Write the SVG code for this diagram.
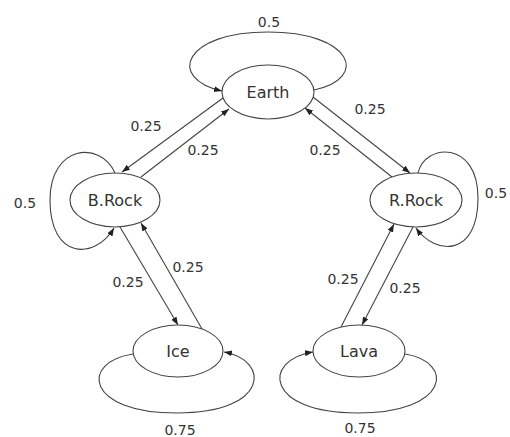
<svg xmlns="http://www.w3.org/2000/svg" width="510" height="437" viewBox="0 0 510 437">
<style>
.node ellipse{fill:#fff;stroke:#444;stroke-width:1.1}
.node text{font-family:"DejaVu Sans",sans-serif;font-size:16px;fill:#333;text-anchor:middle;dominant-baseline:central}
.edges path,.edges line{fill:none;stroke:#444;stroke-width:1.1;marker-end:url(#ah)}
.lbl{font-family:"DejaVu Sans",sans-serif;font-size:14px;fill:#333;text-anchor:middle;dominant-baseline:central}
</style>
<defs>
<marker id="ah" markerUnits="userSpaceOnUse" markerWidth="9" markerHeight="7" refX="8" refY="3" orient="auto">
<path d="M0,0 L8,3 L0,6 z" fill="#222"/>
</marker>
</defs>
<rect width="510" height="437" fill="#fff"/>
<g class="edges">
<path d="M314,90 C370,78 352,32 268,32 C184,32 166,78 222,91"/>
<line x1="223" y1="98" x2="122" y2="172"/>
<line x1="141" y1="177" x2="229" y2="109"/>
<line x1="313" y1="97" x2="410" y2="173"/>
<line x1="392" y1="177" x2="305" y2="108"/>
<path d="M115,173 C100,140 50,145 50,200 C50,260 95,260 114,228"/>
<path d="M418,173 C425,143 478,140 478,198 C478,258 435,255 416,228"/>
<line x1="120" y1="227" x2="178" y2="325"/>
<line x1="202" y1="329" x2="141" y2="223"/>
<line x1="341" y1="327" x2="394" y2="224"/>
<line x1="413" y1="227" x2="362" y2="325"/>
<path d="M133,354 C80,362 85,413 177,413 C270,413 270,360 224,352"/>
<path d="M405,354 C455,362 450,413 357,413 C265,413 262,360 313,352"/>
</g>
<g id="labels">
<text class="lbl" x="269" y="22">0.5</text>
<text class="lbl" x="146" y="126">0.25</text>
<text class="lbl" x="203" y="150">0.25</text>
<text class="lbl" x="370" y="109">0.25</text>
<text class="lbl" x="325" y="150">0.25</text>
<text class="lbl" x="25" y="203">0.5</text>
<text class="lbl" x="496" y="193">0.5</text>
<text class="lbl" x="128" y="282">0.25</text>
<text class="lbl" x="188" y="267">0.25</text>
<text class="lbl" x="343" y="279">0.25</text>
<text class="lbl" x="405" y="288">0.25</text>
<text class="lbl" x="180" y="430">0.75</text>
<text class="lbl" x="360" y="428">0.75</text>
</g>
<g id="earth" class="node"><ellipse cx="268" cy="92" rx="46" ry="27"/><text x="268" y="92">Earth</text></g>
<g id="brock" class="node"><ellipse cx="115" cy="200" rx="45" ry="27"/><text x="115" y="200">B.Rock</text></g>
<g id="rrock" class="node"><ellipse cx="416" cy="200" rx="46" ry="27"/><text x="416" y="200">R.Rock</text></g>
<g id="ice" class="node"><ellipse cx="178" cy="351" rx="45" ry="26"/><text x="178" y="351">Ice</text></g>
<g id="lava" class="node"><ellipse cx="359" cy="351" rx="46" ry="26"/><text x="359" y="351">Lava</text></g>
</svg>
